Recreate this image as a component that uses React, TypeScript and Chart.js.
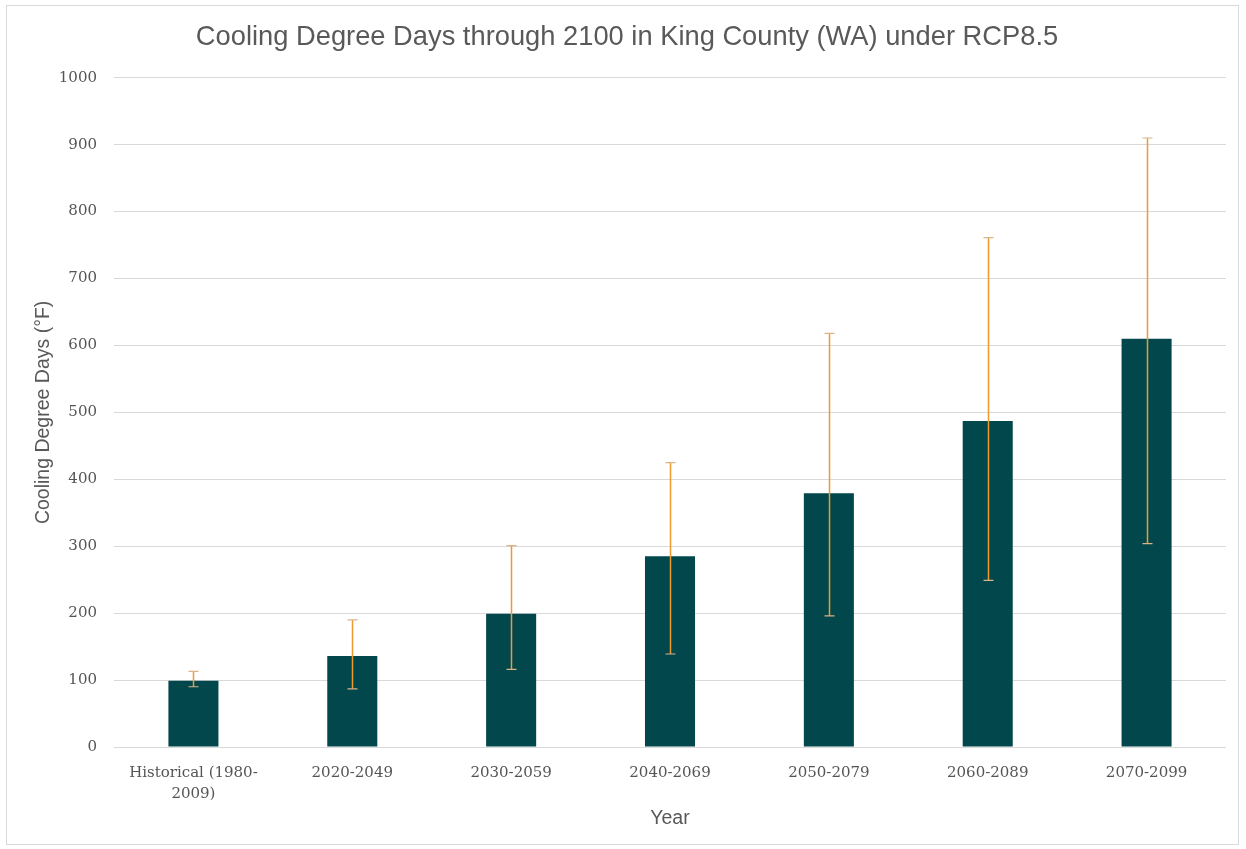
import React, { useEffect, useRef } from "react";
import { Chart, registerables } from "chart.js";

Chart.register(...registerables);

const categories: (string | string[])[] = [
  ["Historical (1980-", "2009)"],
  "2020-2049",
  "2030-2059",
  "2040-2069",
  "2050-2079",
  "2060-2089",
  "2070-2099",
];
const meanValues = [99, 136, 199, 285, 379, 487, 610];
const upperValues = [113, 190, 301, 425, 618, 761, 910];
const lowerValues = [90, 87, 116, 139, 196, 249, 304];
const yMin = 0;
const yMax = 1000;
const yStep = 100;

const titleText = "Cooling Degree Days through 2100 in King County (WA) under RCP8.5";
const yTitle = "Cooling Degree Days (°F)";
const xTitle = "Year";

const errorBarPlugin = {
  id: "errorBars",
  afterDatasetsDraw(chart: any) {
    const ctx = chart.ctx;
    const meta = chart.getDatasetMeta(0);
    const yScale = chart.scales.y;
    ctx.save();
    meta.data.forEach((bar: any, i: number) => {
      const x = Math.round(bar.x) + 0.5;
      const yTop = yScale.getPixelForValue(upperValues[i]);
      const yBot = yScale.getPixelForValue(lowerValues[i]);
      ctx.strokeStyle = "#EE9A30";
      ctx.lineWidth = 1.5;
      ctx.beginPath();
      ctx.moveTo(x, yTop);
      ctx.lineTo(x, yBot);
      ctx.stroke();
      ctx.strokeStyle = "#D9B487";
      ctx.lineWidth = 1.2;
      ctx.beginPath();
      ctx.moveTo(x - 5, yTop);
      ctx.lineTo(x + 5, yTop);
      ctx.moveTo(x - 5, yBot);
      ctx.lineTo(x + 5, yBot);
      ctx.stroke();
    });
    ctx.restore();
  },
};

export default function App() {
  const canvasRef = useRef<HTMLCanvasElement | null>(null);

  useEffect(() => {
    document.body.style.margin = "0";
    const canvas = canvasRef.current;
    if (!canvas) return;
    const chart = new Chart(canvas, {
      type: "bar",
      data: {
        labels: categories,
        datasets: [
          {
            label: "Cooling Degree Days",
            data: meanValues,
            backgroundColor: "#01474B",
            borderWidth: 0,
            categoryPercentage: 1,
            barPercentage: 0.315,
          },
        ],
      },
      options: {
        responsive: false,
        animation: false,
        layout: { padding: { left: 28, right: 20, top: 8, bottom: 8 } },
        plugins: {
          legend: { display: false },
          tooltip: { enabled: false },
          title: {
            display: true,
            text: titleText,
            color: "#595959",
            font: { family: "'Liberation Sans', Arial, sans-serif", size: 27.3, weight: "normal" },
            padding: { top: 13, bottom: 24 },
          },
        },
        scales: {
          x: {
            grid: { display: false, drawTicks: false },
            border: { display: false },
            ticks: {
              color: "#555555",
              font: { family: "'DejaVu Serif', serif", size: 15, lineHeight: 1.4 },
              padding: 16,
              maxRotation: 0,
              autoSkip: false,
            },
            title: {
              display: true,
              text: xTitle,
              color: "#595959",
              font: { family: "'Liberation Sans', Arial, sans-serif", size: 19.5 },
              padding: { top: 0, bottom: 11 },
            },
            afterFit(scale: any) {
              scale.height = 94;
            },
          },
          y: {
            min: yMin,
            max: yMax,
            ticks: {
              stepSize: yStep,
              color: "#555555",
              font: { family: "'DejaVu Serif', serif", size: 15 },
              padding: 17,
              callback: (v: any) => String(v),
            },
            grid: { color: "#D9D9D9", lineWidth: 1, drawTicks: false },
            border: { display: false },
            title: {
              display: true,
              text: yTitle,
              color: "#595959",
              font: { family: "'Liberation Sans', Arial, sans-serif", size: 19.5 },
              padding: { top: 4, bottom: 0 },
            },
            afterFit(scale: any) {
              scale.width = 86;
            },
          },
        },
      },
      plugins: [errorBarPlugin],
    });
    return () => chart.destroy();
  }, []);

  return (
    <div style={{ position: "relative", width: 1246, height: 849, background: "#fff" }}>
      <div
        style={{
          position: "absolute",
          left: 6,
          top: 5,
          width: 1231,
          height: 838,
          border: "1px solid #D9D9D9",
          pointerEvents: "none",
        }}
      />
      <canvas
        ref={canvasRef}
        width={1246}
        height={849}
        style={{ position: "absolute", left: 0, top: 0, width: 1246, height: 849 }}
      />
    </div>
  );
}
